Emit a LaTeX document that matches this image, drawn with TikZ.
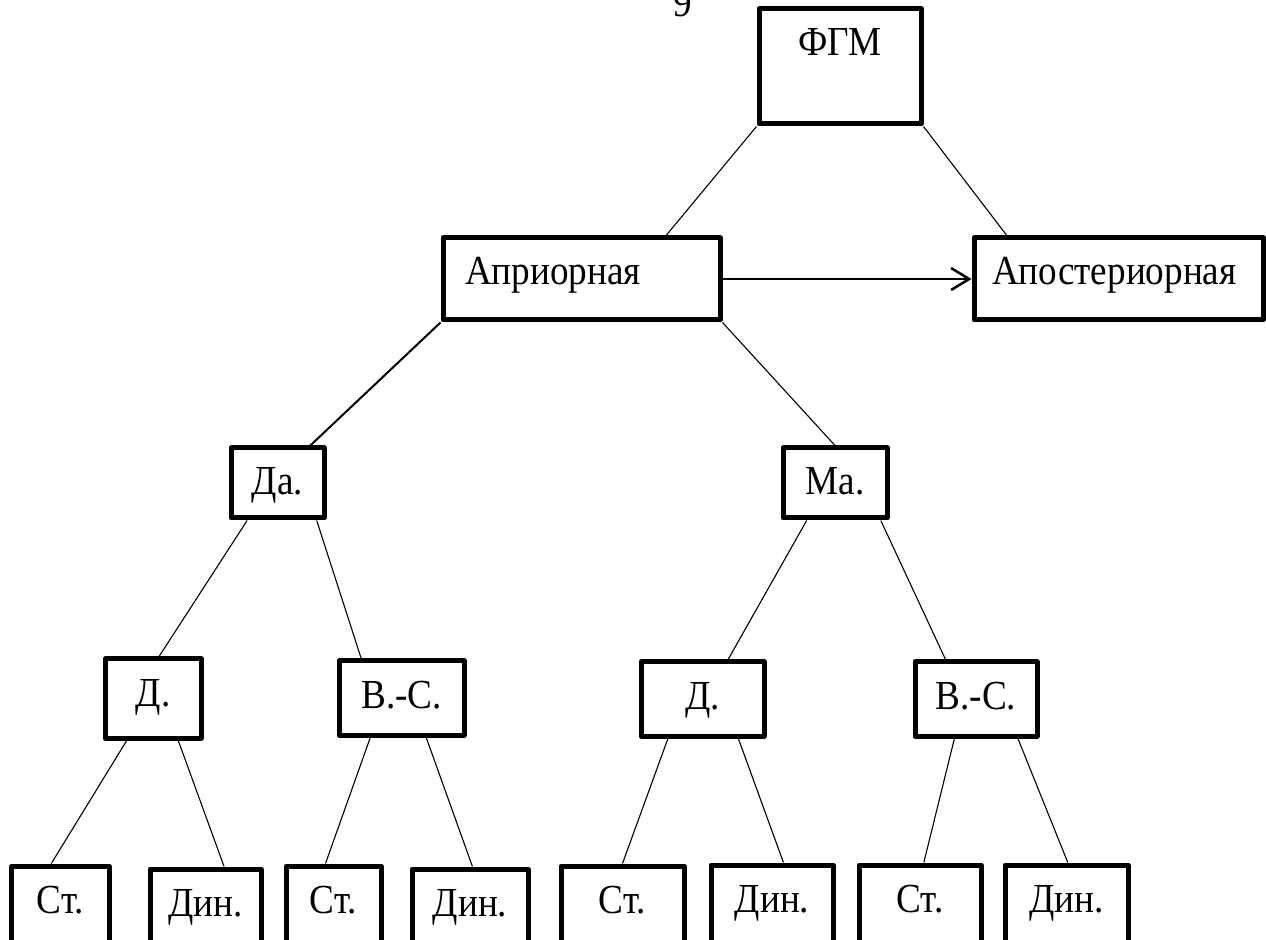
\documentclass[tikz,border=0pt]{standalone}
\usepackage{fontspec}
\setmainfont{Liberation Serif}[FakeStretch=0.9]
\usetikzlibrary{calc,arrows.meta}
\def\link[#1](#2:#3)(#4:#5){\draw[#1] ($(#2.south west)!#3!(#2.south east)$) -- ($(#4.north west)!#5!(#4.north east)$);}
\tikzset{
	blk/.style={draw, line width=1mm, line join=round, inner sep=0pt, text height=9.4mm},
	leaf/.style={blk, text depth=10.6mm},
	conn/.style={line width=0.22mm},
}

\begin{document}
\begin{tikzpicture}[x=0.2mm, y=-0.2mm, font=\fontsize{23.5}{28}\selectfont]
			%%%%% START %%%%%
			
			\useasboundingbox (0, 0) rectangle (1266, 940);
			
			\node[anchor=base] (pgnum) at (683, 17) {9};
			
			\node[blk, minimum width=32.4mm, text depth=13.6mm] (fgm) at (840, 66.5) {ФГМ};
			
			\node[blk, text width=46.6mm, inner xsep=4.4mm, align=left, text depth=7mm] (apr) at (581.5, 279) {Априорная};
			\node[blk, text width=50.6mm, inner xsep=3.6mm, align=left, text depth=7mm] (apost) at (1118.5, 279) {Апостериорная};
			
			\node[blk, minimum width=18.6mm, text depth=4.6mm] (da) at (277.5, 483) {Да.};
			\node[blk, minimum width=20.8mm, text depth=4.6mm] (ma) at (835, 483) {Ма.};
			
			\node[blk, minimum width=19.2mm, text depth=6.4mm] (dl) at (153, 698.5) {Д.};
			\node[blk, minimum width=25mm, text depth=5.4mm] (vsl) at (401.5, 698) {В.-С.};
			\node[blk, minimum width=24.6mm, text depth=5.4mm] (dm) at (702.5, 699) {Д.};
			\node[blk, minimum width=24.4mm, text depth=5.4mm] (vsr) at (976, 699) {В.-С.};
			
			\node[leaf, minimum width=19.4mm] (st1) at (60.5, 916) {Ст.};
			\node[leaf, minimum width=22.2mm] (din1) at (205.5, 919) {Дин.};
			\node[leaf, minimum width=19mm] (st2) at (333.5, 916) {Ст.};
			\node[leaf, minimum width=23.2mm] (din2) at (470, 919) {Дин.};
			\node[leaf, minimum width=24.6mm] (st3) at (622.5, 916) {Ст.};
			\node[leaf, minimum width=24.4mm] (din3) at (772, 915) {Дин.};
			\node[leaf, minimum width=24.4mm] (st4) at (920, 915) {Ст.};
			\node[leaf, minimum width=24.6mm] (din4) at (1066.5, 915) {Дин.};
			
			\draw[conn] (fgm.south west) -- ($(apr.north west)!.8!(apr.north east)$);
			\draw[conn] (fgm.south east) -- ($(apost.north west)!.12!(apost.north east)$);
			\draw[line width=0.5mm, -{Straight Barb[length=3.6mm, width=4.4mm]}] (apr) -- (apost);
			
			\link[line width=0.4mm](apr:0)(da:.835)
			\link[conn](apr:1)(ma:.5)
			
			\link[conn](da:.19)(dl:.56)
			\link[conn](da:.9)(vsl:.19)
			\link[conn](ma:.24)(dm:.7)
			\link[conn](ma:.92)(vsr:.26)
			
			\link[conn](dl:.24)(st1:.41)
			\link[conn](dl:.75)(din1:.66)
			\link[conn](vsl:.26)(st2:.42)
			\link[conn](vsl:.69)(din2:.52)
			\link[conn](dm:.23)(st3:.5)
			\link[conn](dm:.78)(din3:.59)
			\link[conn](vsr:.33)(st4:.53)
			\link[conn](vsr:.83)(din4:.51)
			
			%%%%% END %%%%%
\end{tikzpicture}
\end{document}
